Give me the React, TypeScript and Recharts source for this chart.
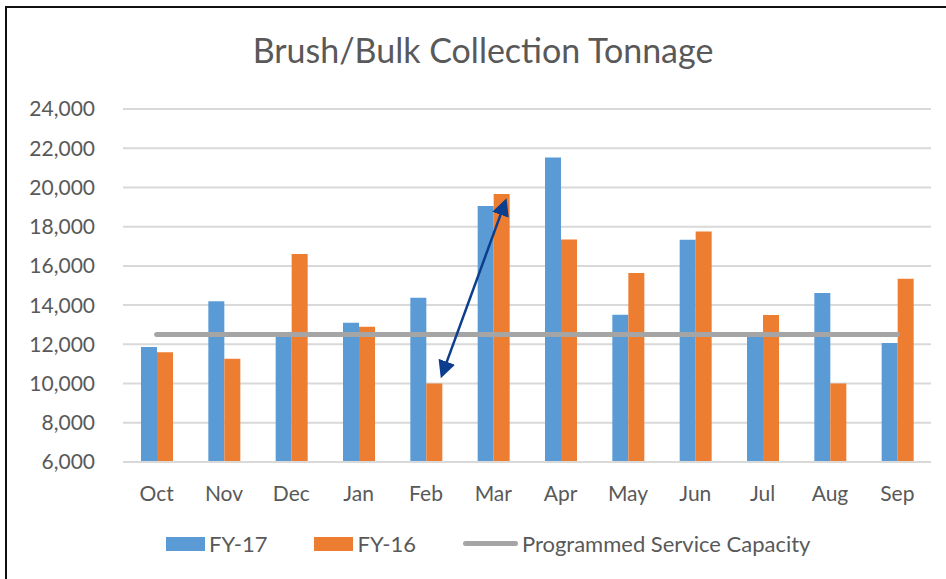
import {
  ComposedChart, Bar, Line, XAxis, YAxis, CartesianGrid, ReferenceLine,
} from "recharts";

const months = ["Oct", "Nov", "Dec", "Jan", "Feb", "Mar", "Apr", "May", "Jun", "Jul", "Aug", "Sep"];
const fy17 = [11870, 14200, 12400, 13100, 14370, 19060, 21530, 13510, 17330, 12390, 14620, 12070];
const fy16 = [11600, 11270, 16600, 12900, 10000, 19670, 17340, 15640, 17750, 13500, 10000, 15340];
const capacity = [12500, 12500, 12500, 12500, 12500, 12500, 12500, 12500, 12500, 12500, 12500, 12500];
const yTicks = [6000, 8000, 10000, 12000, 14000, 16000, 18000, 20000, 22000, 24000];

// arrow between the Feb and Mar FY-16 bars
const arrowFrom = { x: "Feb", y: 10440 };
const arrowTo = { x: "Mar", y: 19280 };

const data = months.map((m, i) => ({
  month: m,
  fy17: fy17[i],
  fy16: fy16[i],
  capacity: capacity[i],
}));

const FONT = "Lato, 'Open Sans', sans-serif";
const TEXT = "#595959";
const ARROW = "#0D3E8E";

const ArrowShape = (props: any) => {
  const { x1, y1, x2, y2 } = props;
  if ([x1, y1, x2, y2].some((v) => typeof v !== "number")) return null;
  return (
    <g>
      <defs>
        <marker id="arrowHead" viewBox="0 0 10 10" refX="8" refY="5" markerWidth="7" markerHeight="7" orient="auto-start-reverse">
          <path d="M0,0 L10,5 L0,10 z" fill={ARROW} />
        </marker>
      </defs>
      <line
        x1={x1 + 16}
        y1={y1}
        x2={x2 + 12}
        y2={y2}
        stroke={ARROW}
        strokeWidth={2.5}
        markerStart="url(#arrowHead)"
        markerEnd="url(#arrowHead)"
      />
    </g>
  );
};

const LegendItem = ({ kind, color, label }: { kind: "bar" | "line"; color: string; label: string }) => (
  <div style={{ display: "flex", alignItems: "center", marginRight: kind === "line" ? 0 : 47 }}>
    {kind === "bar" ? (
      <div style={{ width: 39, height: 14, background: color, marginRight: 4 }} />
    ) : (
      <div style={{ width: 55, height: 5, borderRadius: 3, background: color, marginRight: 4 }} />
    )}
    <span>{label}</span>
  </div>
);

export default function App() {
  return (
    <div style={{ position: "absolute", left: 0, top: 0, width: 946, height: 579, background: "#fff", fontFamily: FONT, overflow: "hidden" }}>
      <div style={{ position: "absolute", left: 5, top: 6, width: 960, height: 600, borderTop: "2.5px solid #111", borderLeft: "2.5px solid #111" }} />
      <div style={{ position: "absolute", left: 0, top: 34, width: 966, textAlign: "center", fontSize: 34, lineHeight: "32px", color: TEXT }}>
        Brush/Bulk Collection Tonnage
      </div>
      <div style={{ position: "absolute", left: 0, top: 0 }}>
        <ComposedChart
          width={946}
          height={579}
          data={data}
          margin={{ top: 109, right: 15, bottom: 87, left: 0 }}
          barGap={0}
          barSize={16}
        >
          <CartesianGrid vertical={false} stroke="#D9D9D9" strokeWidth={2} />
          <XAxis
            dataKey="month"
            height={30}
            tickLine={false}
            tickSize={0}
            tickMargin={24}
            axisLine={{ stroke: "#D9D9D9", strokeWidth: 2 }}
            tick={{ fontSize: 21, fill: TEXT, fontFamily: FONT }}
            interval={0}
          />
          <YAxis
            width={123}
            domain={[6000, 24000]}
            ticks={yTicks}
            tickLine={false}
            tickSize={0}
            tickMargin={28}
            axisLine={false}
            tick={{ fontSize: 21, fill: TEXT, fontFamily: FONT }}
            tickFormatter={(v: number) => v.toLocaleString("en-US")}
          />
          <Bar dataKey="fy17" name="FY-17" fill="#5B9BD5" isAnimationActive={false} />
          <Bar dataKey="fy16" name="FY-16" fill="#ED7D31" isAnimationActive={false} />
          <Line
            dataKey="capacity"
            name="Programmed Service Capacity"
            stroke="#A5A5A5"
            strokeWidth={5}
            strokeLinecap="round"
            dot={false}
            activeDot={false}
            isAnimationActive={false}
          />
          <ReferenceLine segment={[arrowFrom, arrowTo]} shape={ArrowShape} ifOverflow="visible" />
        </ComposedChart>
      </div>
      <div style={{ position: "absolute", left: 166, top: 530, display: "flex", alignItems: "center", fontSize: 22, color: TEXT }}>
        <LegendItem kind="bar" color="#5B9BD5" label="FY-17" />
        <LegendItem kind="bar" color="#ED7D31" label="FY-16" />
        <LegendItem kind="line" color="#A5A5A5" label="Programmed Service Capacity" />
      </div>
    </div>
  );
}
